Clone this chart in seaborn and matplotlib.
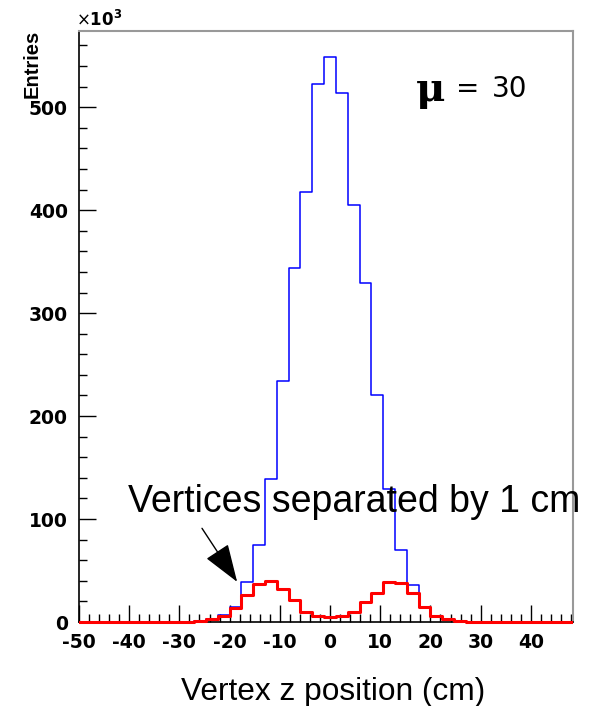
import numpy as np
import pandas as pd
import matplotlib
matplotlib.use('Agg')
import matplotlib.pyplot as plt
import seaborn as sns
from matplotlib.ticker import MultipleLocator
from matplotlib.patches import Rectangle

# bin layout of the vertex z histogram (cm), bins centred on 0
bin_width = 200 / 85
bin_index = list(range(-22, 23))

# entries per bin, in units of 10^3
all_vertices = [0] * 10 + [
    0.3, 1, 3, 7, 15, 39, 75, 139, 234, 344, 418, 523, 549,
    514, 405, 329, 220, 129, 70, 36, 15, 6, 2.5, 1, 0.3] + [0] * 10
close_vertices = [0] * 10 + [
    0.3, 0.8, 2.5, 5.5, 14, 26, 37, 40, 32, 21, 9.5, 6, 5,
    6, 9.5, 19, 28, 39, 38, 28, 15, 6, 2.5, 1, 0.3] + [0] * 10

x_ticks = [-50, -40, -30, -20, -10, 0, 10, 20, 30, 40]
y_ticks = [0, 100, 200, 300, 400, 500]

df = pd.DataFrame({'z': np.array(bin_index) * bin_width,
                   'all': all_vertices, 'close': close_vertices})
edges = ((np.arange(bin_index[0], bin_index[-1] + 2) - 0.5) * bin_width).tolist()

sns.set_style('white')
plt.rcParams['font.family'] = ['DejaVu Sans']
plt.rcParams['axes.unicode_minus'] = False
plt.rcParams['text.color'] = 'black'
plt.rcParams['xtick.color'] = 'black'
plt.rcParams['ytick.color'] = 'black'

fig = plt.figure(figsize=(5.98, 7.06), dpi=100)
ax = fig.add_axes([79 / 598, 84 / 706, (573 - 79) / 598, (622 - 31) / 706])

sns.histplot(data=df, x='z', weights='all', bins=edges, element='step',
             fill=False, color='#0000ff', linewidth=1.1, ax=ax)
sns.histplot(data=df, x='z', weights='close', bins=edges, element='step',
             fill=False, color='#ff0000', linewidth=2.2, ax=ax)

# let the step lines sit on top of the frame, visible along the zero line
clip = Rectangle((0, -0.01), 1, 1.02, transform=ax.transAxes, fill=False)
for i, line in enumerate(ax.lines):
    line.set_zorder(4 + i)
    line.set_clip_path(clip)

ax.set_xlim(-50, 48.4)
ax.set_ylim(0, 574)
ax.set_xticks(x_ticks)
ax.set_yticks(y_ticks)
ax.xaxis.set_minor_locator(MultipleLocator(2))
ax.yaxis.set_minor_locator(MultipleLocator(20))
ax.set_xlabel('')
ax.set_ylabel('')
ax.tick_params(which='both', direction='in', color='black', top=False, right=False,
               bottom=True, left=True, labelcolor='black')
ax.tick_params(which='major', length=12, width=1)
ax.tick_params(which='minor', length=6, width=1)
ax.tick_params(axis='x', pad=8)
ax.tick_params(axis='y', pad=8)
for lab in ax.get_xticklabels() + ax.get_yticklabels():
    lab.set_fontsize(13.5)
    lab.set_fontweight('bold')

for side in ['left', 'bottom']:
    ax.spines[side].set_color('black')
    ax.spines[side].set_linewidth(1.2)
for side in ['top', 'right']:
    ax.spines[side].set_color('#999999')
    ax.spines[side].set_linewidth(1.5)

# labels and annotations
fig.text(32 / 598, 1 - 30 / 706, 'Entries', rotation=90, ha='center', va='top',
         fontsize=14.5, fontweight='bold', family='Liberation Sans')
fig.text(76 / 598, 1 - 26 / 706, r'$\times\mathbf{10^{3}}$', fontsize=12,
         ha='left', va='baseline')
fig.text(416 / 598, 1 - 101 / 706, 'μ', family='DejaVu Serif', fontsize=29,
         fontweight='bold', ha='left', va='baseline')
fig.text(456 / 598, 1 - 97 / 706, '=', fontsize=20, ha='left', va='baseline')
fig.text(527 / 598, 1 - 97 / 706, '30', fontsize=20, ha='right', va='baseline')
fig.text(128 / 598, 1 - 512 / 706, 'Vertices separated by 1 cm', family='Liberation Sans',
         fontsize=27, ha='left', va='baseline')
fig.text(333 / 598, 1 - 700 / 706, 'Vertex z position (cm)', family='Liberation Sans',
         fontsize=22.8, ha='center', va='baseline')

ax.annotate('', xy=(-18.5, 39), xytext=(-25.5, 91),
            arrowprops=dict(arrowstyle='-|>,head_length=1.2,head_width=0.42',
                            color='black', lw=1, mutation_scale=20,
                            shrinkA=0, shrinkB=0))

fig.savefig('out.png', dpi=100)
